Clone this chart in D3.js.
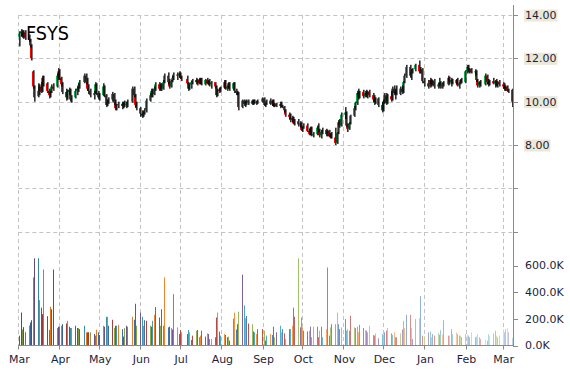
<!DOCTYPE html>
<html><head><meta charset="utf-8">
<script src="https://cdn.jsdelivr.net/npm/d3@7"></script>
<style>html,body{margin:0;padding:0;background:#fff;}svg{display:block;}</style>
</head><body>
<svg id="chart" width="570" height="370"></svg>
<script>
const ticker = "FSYS";
const firstDay = "2014-03-03", lastDay = "2015-03-09";
const holidays = ["2014-04-18","2014-05-26","2014-07-04","2014-09-01","2014-11-27","2014-12-25","2015-01-01","2015-01-19","2015-02-16"];
const priceTicks = [4, 6, 8, 10, 12, 14];
const priceLabels = ["", "", "8.00", "10.00", "12.00", "14.00"];
const volumeTicks = [0, 200, 400, 600];           // thousands
const volumeLabels = ["0.0K", "200.0K", "400.0K", "600.0K"];

const open = [
13.00,13.15,13.20,13.05,13.20, 13.00,12.85,12.60,11.40,10.70, 10.25,10.50,10.70,10.50,11.10, 10.85,10.50,10.30,10.45,10.70,
10.70,11.20,11.40,11.10,10.80, 10.45,10.20,10.45,10.55,10.10, 10.20,10.50,10.60,10.75, 10.90,11.20,10.90,10.60,10.50,
10.30,10.40,10.80,10.40,10.20, 10.30,10.70,10.30,9.85,10.00, 10.10,10.35,9.95,9.70,9.85, 9.90,9.80,9.95,9.85,9.90,
10.00,10.60,10.30,9.85, 9.70,9.45,9.35,9.50,9.60, 10.05,10.30,10.50,10.35,10.60, 10.80,10.60,10.75,10.60,10.90,
11.20,10.90,10.70,10.95,11.10, 11.25,11.20,11.30,11.10, 11.05,10.85,10.60,10.80,10.90, 11.00,10.90,11.00,10.85,11.05,
10.80,11.00,10.85,10.95,10.80, 10.90,10.70,10.30,10.55,10.50, 10.65,10.90,10.60,10.70,10.85, 10.60,10.85,10.50,10.40,10.40,
9.75,10.05,9.90,10.00,9.95, 10.05,9.90,10.05,9.95,10.00, 10.00,10.15,9.85,9.90, 10.05,9.90,10.05,9.80,9.90,
9.80,9.90,9.80,9.75,9.60, 9.40,9.30,9.15,9.25,9.00, 9.10,8.95,9.00,8.70,8.80, 8.90,8.65,8.50,8.80,8.45,
8.50,8.80,8.70,8.45,8.60, 8.70,8.50,8.65,8.40,8.50, 8.35,8.10,8.55,9.05,8.90, 9.40,9.50,8.90,8.75,9.00,
9.35,9.70,9.95,10.40,10.20, 10.45,10.25,10.40,10.30,10.45, 10.30,10.10,9.95,10.15, 9.85,9.60,10.00,10.30,9.95,
10.25,10.10,10.60,10.40,10.50, 10.35,10.60,10.45,10.90,11.20, 11.60,11.20,11.40,11.50, 11.70,11.40,11.50,10.95,
10.85,10.70,11.00,10.80,10.95, 10.70,10.80,10.90,10.65,10.85, 10.80,11.10,10.90,11.00, 10.85,11.00,10.75,10.85,11.00,
10.90,11.40,11.60,11.45,11.50, 11.35,11.40,11.00,10.75,10.90, 10.80,11.20,10.90,10.80, 10.95,10.85,10.95,10.75,10.90,
10.80,10.70,10.60,10.70,10.50,10.55];
const high = [
13.25,13.35,13.30,13.30,13.30, 13.10,12.90,12.65,11.45,10.75, 10.85,10.80,10.90,11.20,11.20, 10.90,10.60,10.50,10.80,10.85,
11.30,11.55,11.50,11.15,10.90, 10.60,10.55,10.65,10.60,10.30, 10.60,10.70,10.85,11.00, 11.30,11.30,11.10,10.80,10.60,
10.50,10.90,10.85,10.50,10.40, 10.85,10.75,10.35,10.10,10.20, 10.45,10.40,10.10,9.90,10.00, 10.00,10.00,10.05,10.00,10.10,
10.70,10.70,10.35,10.00, 9.75,9.60,9.55,9.70,10.15, 10.40,10.60,10.60,10.70,10.90, 10.90,10.85,10.85,11.00,11.30,
11.35,11.05,11.00,11.20,11.35, 11.35,11.40,11.35,11.20, 11.20,10.90,10.85,10.95,11.05, 11.10,11.05,11.10,11.10,11.10,
11.05,11.10,11.00,11.05,10.95, 10.90,10.75,10.60,10.65,10.70, 11.00,11.00,10.75,10.90,10.90, 10.90,10.90,10.60,10.50,10.45,
10.10,10.10,10.05,10.10,10.10, 10.10,10.10,10.10,10.05,10.10, 10.20,10.20,9.95,10.10, 10.15,10.10,10.10,9.95,9.95,
10.00,10.00,9.85,9.80,9.65, 9.50,9.45,9.35,9.30,9.20, 9.20,9.10,9.05,8.85,9.00, 9.00,8.75,8.85,8.85,8.60,
8.90,9.00,8.75,8.70,8.80, 8.75,8.70,8.70,8.55,8.60, 8.80,8.60,9.15,9.20,9.50, 9.75,9.55,9.00,9.05,9.40,
9.80,10.00,10.50,10.60,10.50, 10.55,10.50,10.55,10.50,10.55, 10.40,10.30,10.20,10.20, 10.00,10.10,10.40,10.40,10.35,
10.50,10.70,10.75,10.60,10.75, 10.70,10.75,10.95,11.30,11.70, 11.70,11.50,11.55,11.75, 11.90,11.60,11.55,11.10,
11.00,11.10,11.05,11.00,11.05, 10.85,11.10,10.95,10.90,10.95, 11.20,11.15,11.10,11.05, 11.05,11.10,10.90,11.05,11.10,
11.45,11.70,11.70,11.55,11.55, 11.50,11.45,11.05,10.95,11.00, 11.30,11.25,11.05,11.00, 11.10,11.00,11.05,10.95,11.00,
10.90,10.85,10.75,10.75,10.60,10.60];
const low = [
12.55,13.00,12.95,12.90,12.85, 12.75,12.50,11.90,10.60,10.00, 10.20,10.30,10.40,10.45,10.70, 10.40,10.15,10.20,10.40,10.50,
10.65,11.00,11.00,10.70,10.35, 10.05,10.10,10.30,10.00,9.95, 10.15,10.30,10.45,10.60, 10.85,10.80,10.50,10.35,10.20,
10.10,10.35,10.30,10.10,10.05, 10.25,10.20,9.75,9.80,9.90, 10.00,9.85,9.60,9.60,9.70, 9.65,9.70,9.75,9.70,9.75,
9.95,10.20,9.75,9.60, 9.30,9.25,9.30,9.40,9.50, 10.00,10.20,10.20,10.30,10.50, 10.50,10.50,10.50,10.55,10.85,
10.80,10.60,10.65,10.90,11.00, 11.00,11.10,11.05,10.95, 10.80,10.50,10.55,10.60,10.80, 10.80,10.75,10.80,10.80,10.75,
10.75,10.80,10.75,10.70,10.60, 10.60,10.20,10.25,10.40,10.45, 10.60,10.55,10.50,10.60,10.50, 10.55,10.40,10.30,10.30,9.60,
9.70,9.80,9.75,9.85,9.85, 9.85,9.85,9.90,9.85,9.90, 9.95,9.80,9.75,9.85, 9.85,9.80,9.75,9.75,9.75,
9.70,9.75,9.70,9.50,9.30, 9.20,9.05,9.05,8.95,8.90, 8.85,8.80,8.65,8.60,8.75, 8.60,8.45,8.45,8.40,8.35,
8.45,8.60,8.35,8.30,8.50, 8.40,8.40,8.35,8.30,8.30, 8.00,8.05,8.50,8.80,8.85, 9.20,8.85,8.60,8.70,8.95,
9.30,9.60,9.85,10.10,10.15, 10.15,10.20,10.20,10.15,10.20, 10.00,9.85,9.90,9.75, 9.50,9.55,9.90,9.85,9.90,
10.00,10.05,10.30,10.10,10.30, 10.30,10.35,10.40,10.85,11.10, 11.10,11.00,11.30,11.40, 11.30,11.30,10.85,10.70,
10.60,10.65,10.70,10.75,10.60, 10.60,10.75,10.60,10.60,10.70, 10.75,10.80,10.70,10.80, 10.80,10.70,10.60,10.80,10.85,
10.85,11.30,11.35,11.30,11.30, 11.20,10.90,10.65,10.65,10.70, 10.75,10.80,10.70,10.75, 10.80,10.65,10.70,10.65,10.70,
10.60,10.50,10.50,10.45,10.40,9.75];
const close = [
13.15,13.25,13.00,13.20,12.95, 12.85,12.60,12.00,10.70,10.20, 10.50,10.70,10.45,11.10,10.80, 10.50,10.30,10.45,10.70,10.60,
11.20,11.40,11.10,10.80,10.45, 10.20,10.45,10.55,10.10,10.15, 10.50,10.60,10.75,10.90, 11.20,10.90,10.60,10.50,10.30,
10.40,10.80,10.40,10.20,10.30, 10.70,10.30,9.85,10.00,10.10, 10.35,9.95,9.70,9.85,9.90, 9.80,9.95,9.85,9.90,10.00,
10.60,10.30,9.85,9.70, 9.45,9.35,9.50,9.60,10.05, 10.30,10.50,10.35,10.60,10.80, 10.60,10.75,10.60,10.90,11.20,
10.90,10.70,10.95,11.10,11.25, 11.20,11.30,11.10,11.05, 10.85,10.60,10.80,10.90,11.00, 10.90,11.00,10.85,11.05,10.80,
11.00,10.85,10.95,10.80,10.90, 10.70,10.30,10.55,10.50,10.65, 10.90,10.60,10.70,10.85,10.60, 10.85,10.50,10.40,10.40,9.75,
10.05,9.90,10.00,9.95,10.05, 9.90,10.05,9.95,10.00,10.00, 10.15,9.85,9.90,10.05, 9.90,10.05,9.80,9.90,9.80,
9.90,9.80,9.75,9.60,9.40, 9.30,9.15,9.25,9.00,9.10, 8.95,9.00,8.70,8.80,8.90, 8.65,8.50,8.80,8.45,8.50,
8.80,8.70,8.45,8.60,8.70, 8.50,8.65,8.40,8.50,8.35, 8.10,8.55,9.05,8.90,9.40, 9.50,8.90,8.75,9.00,9.35,
9.70,9.95,10.40,10.20,10.45, 10.25,10.40,10.30,10.45,10.30, 10.10,9.95,10.15,9.85, 9.60,10.00,10.30,9.95,10.25,
10.10,10.60,10.40,10.50,10.35, 10.60,10.45,10.90,11.20,11.60, 11.20,11.40,11.50,11.70, 11.40,11.50,10.95,10.85,
10.70,11.00,10.80,10.95,10.70, 10.80,10.90,10.65,10.85,10.80, 11.10,10.90,11.00,10.85, 11.00,10.75,10.85,11.00,10.90,
11.40,11.60,11.45,11.50,11.35, 11.40,11.00,10.75,10.90,10.80, 11.20,10.90,10.80,10.95, 10.85,10.95,10.75,10.90,10.80,
10.70,10.60,10.70,10.50,10.55,10.00];
const volume = [   // thousands of shares
74,247,120,138,100, 150,173,190,511,654, 654,340,284,235,570, 220,116,290,272,570,
131,141,141,148,160, 165,185,141,131,131, 148,131,131,123, 148,99,99,99,99,
86,74,118,99,79, 148,141,215,215,148, 193,131,148,148,155, 123,67,131,148,141,
215,193,313,148, 247,215,148,190,185, 148,141,185,230,289, 210,148,272,148,511,
136,141,131,120,385, 136,86,115,99, 86,116,99,42,74, 111,116,62,74,111,
67,91,86,49,49, 62,210,247,104,74, 86,79,62,67,37, 202,247,120,160,254,
531,301,205,222,165, 160,106,99,86,123, 123,111,37,74, 86,79,141,62,99,
148,99,123,91,49, 123,123,148,284,215, 654,136,210,136,111, 106,111,141,62,141,
141,62,111,141,62, 123,585,74,136,160, 160,247,160,123,136, 198,111,123,111,222,
136,131,141,99,155, 131,116,111,99,148, 79,74,91,54, 86,81,99,111,131,
91,79,99,62,62, 91,120,185,131,230, 230,131,49,198, 205,370,74,70,
99,106,62,86,74, 94,81,116,81,190, 74,74,123,86, 99,86,74,74,62,
86,81,74,62,99, 62,67,86,62,49, 42,37,86,74, 91,111,74,62,74,
123,99,123,131,99,57];

(function () {
const fmt = d3.timeFormat("%Y-%m-%d");
const parse = d3.timeParse("%Y-%m-%d");
const hol = new Set(holidays);
const dates = d3.timeDay.range(parse(firstDay), d3.timeDay.offset(parse(lastDay), 1))
  .filter(d => d.getDay() % 6 !== 0 && !hol.has(fmt(d)));

const rows = dates.map((d, i) => ({date: d, o: open[i], h: high[i], l: low[i], c: close[i], v: volume[i]}));

const svg = d3.select("#chart");
const W = 570, H = 370;
const plotL = 18.3, plotR = 512.7, plotT = 15, volBase = 345.5;

const x = d3.scaleTime().domain([new Date(2014, 2, 1), new Date(2015, 2, 8, 12)]).range([plotL, plotR]);
const yP = d3.scaleLinear().domain([4, 14]).range([231.67, plotT]);
const yV = d3.scaleLinear().domain([0, 600]).range([volBase, 265.5]);
const cx = d => Math.round(x(d) - 1.5);

svg.append("rect").attr("width", W).attr("height", H).attr("fill", "#fff");

const grid = svg.append("g").attr("stroke", "#c4c4c4").attr("stroke-dasharray", "4,3").attr("stroke-width", 1);
const months = d3.timeMonth.range(new Date(2014, 2, 1), new Date(2015, 2, 2));
grid.selectAll("line.v").data(months).join("line")
  .attr("x1", d => Math.round(x(d)) + 0.5).attr("x2", d => Math.round(x(d)) + 0.5)
  .attr("y1", plotT).attr("y2", volBase);
grid.selectAll("line.h").data(priceTicks).join("line")
  .attr("x1", plotL).attr("x2", plotR)
  .attr("y1", d => Math.round(yP(d)) + 0.5).attr("y2", d => Math.round(yP(d)) + 0.5);

// volume bars
const palDark = ["#376092","#953735","#77933c","#604a7b","#31859c","#e46c0a"];
const palMid  = ["#4f81bd","#c0504d","#9bbb59","#8064a2","#4bacc6","#f79646"];
const palLight= ["#b9cde5","#e6b9b8","#d7e4bd","#ccc1da","#b7dee8","#fcd5b5"];
const n = rows.length;
const volColor = (i) => {
  const k = i % 6, t = i / (n - 1);
  return t < 0.5 ? d3.interpolateRgb(palDark[k], palMid[k])(t * 2)
                 : d3.interpolateRgb(palMid[k], palLight[k])((t - 0.5) * 2);
};
svg.append("g").selectAll("rect").data(rows).join("rect")
  .attr("x", d => cx(d.date)).attr("width", 1)
  .attr("y", d => yV(d.v)).attr("height", d => volBase - yV(d.v))
  .attr("fill", (d, i) => volColor(i));

// candles
const cg = svg.append("g");
cg.selectAll("rect.body").data(rows).join("rect").attr("class", "body")
  .attr("x", d => cx(d.date) - 1).attr("width", 1.2)
  .attr("y", d => yP(Math.max(d.o, d.c)))
  .attr("height", d => Math.max(1, Math.abs(yP(d.o) - yP(d.c))))
  .attr("fill", d => d.c >= d.o ? "#00b050" : "#ff0000");
cg.selectAll("rect.wick").data(rows).join("rect").attr("class", "wick")
  .attr("x", d => cx(d.date) + 0.2).attr("width", 1.3)
  .attr("y", d => yP(d.h)).attr("height", d => Math.max(1, yP(d.l) - yP(d.h)))
  .attr("fill", "#000");

// right axis
const ax = svg.append("g");
ax.append("line").attr("x1", 513.5).attr("x2", 513.5).attr("y1", 5).attr("y2", 347).attr("stroke", "#8a8a8a");
const tickYs = priceTicks.map((p, i) => ({y: yP(p), label: priceLabels[i], box: true}))
  .concat(volumeTicks.map((v, i) => ({y: yV(v), label: volumeLabels[i], box: false})));
ax.selectAll("line.t").data(tickYs).join("line")
  .attr("x1", 513.5).attr("x2", 518).attr("y1", d => Math.round(d.y) + 0.5).attr("y2", d => Math.round(d.y) + 0.5)
  .attr("stroke", "#8a8a8a");
ax.selectAll("g.lab").data(tickYs.filter(d => d.label)).join("g").each(function (d) {
  const g = d3.select(this);
  const r = g.append("rect");
  const t = g.append("text").attr("x", 525).attr("y", d.y).attr("dy", "0.36em")
    .attr("font-family", "DejaVu Sans, Verdana, sans-serif").attr("font-size", 11)
    .attr("fill", "#1e1e3a").text(d.label);
  if (d.box) {
    const w = t.node().getComputedTextLength();
    r.attr("x", 524).attr("y", d.y - 5.5).attr("width", w + 2).attr("height", 12).attr("fill", "#ebe8d8");
  } else r.remove();
});

// bottom axis
svg.append("line").attr("x1", plotL).attr("x2", 513.5).attr("y1", volBase).attr("y2", volBase).attr("stroke", "#8a8a8a");
svg.append("g").selectAll("line").data(months).join("line")
  .attr("x1", d => Math.round(x(d)) + 0.5).attr("x2", d => Math.round(x(d)) + 0.5)
  .attr("y1", volBase).attr("y2", volBase + 4).attr("stroke", "#8a8a8a");
svg.append("g").selectAll("text").data(months).join("text")
  .attr("x", d => x(d) + 1).attr("y", 362.5).attr("text-anchor", "middle")
  .attr("font-family", "DejaVu Sans, Verdana, sans-serif").attr("font-size", 11)
  .attr("fill", "#1e1e3a").text(d3.timeFormat("%b"));

// title
svg.append("text").attr("x", 26).attr("y", 40).attr("font-family", "DejaVu Sans, Verdana, sans-serif")
  .attr("font-size", 20).attr("textLength", 43).attr("lengthAdjust", "spacingAndGlyphs")
  .attr("fill", "#000").text(ticker);

if ([open, high, low, close, volume].some(a => a.length !== dates.length)) {
  svg.append("text").attr("x", 200).attr("y", 200).attr("fill", "magenta")
    .text("len " + dates.length + " " + [open, high, low, close, volume].map(a => a.length).join(","));
}
})();
</script>
</body></html>
